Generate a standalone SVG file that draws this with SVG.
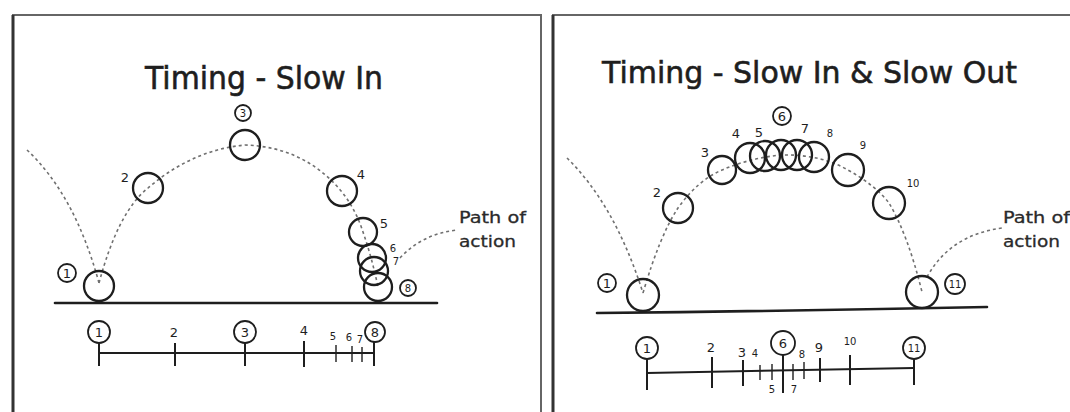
<svg xmlns="http://www.w3.org/2000/svg" width="1070" height="412" viewBox="0 0 1070 412">
<style>
.frame{fill:none;stroke:#666;stroke-width:2}
.frameL{fill:none;stroke:#333;stroke-width:3}
.ball{fill:none;stroke:#1e1e1e;stroke-width:2.3}
.ground{fill:none;stroke:#1e1e1e;stroke-width:2.6;stroke-linecap:round}
.path{fill:none;stroke:#707070;stroke-width:1.6;stroke-dasharray:3 3}
.tl{fill:none;stroke:#1e1e1e;stroke-width:2}
.tick{fill:none;stroke:#1e1e1e;stroke-width:2}
.tickS{fill:none;stroke:#1e1e1e;stroke-width:1.4}
.lc{fill:none;stroke:#1e1e1e;stroke-width:1.8}
.title{font-family:"DejaVu Sans",sans-serif;fill:#1e1e1e;stroke:#1e1e1e;stroke-width:0.6}
.lab{font-family:"DejaVu Sans",sans-serif;fill:#1e1e1e;font-size:13px;text-anchor:middle}
.labS{font-family:"DejaVu Sans",sans-serif;fill:#1e1e1e;font-size:10px;text-anchor:middle}
.note{font-family:"DejaVu Sans",sans-serif;fill:#2a2a2a;font-size:16px;stroke:#2a2a2a;stroke-width:0.3}
</style>
<rect width="1070" height="412" fill="#fff"/>

<!-- frames -->
<g id="frames">
<path class="frame" d="M13,430 V15 H541 V430"/>
<path class="frameL" d="M13,430 V15"/>
<path class="frame" d="M553,430 V15 H1075"/>
<path class="frameL" d="M553,430 V15"/>
</g>

<!-- titles -->
<text class="title" x="145" y="89" font-size="32" textLength="238" lengthAdjust="spacingAndGlyphs">Timing - Slow In</text>
<text class="title" x="602" y="83" font-size="31" textLength="415" lengthAdjust="spacingAndGlyphs">Timing - Slow In &amp; Slow Out</text>

<!-- connectors: dashed paths of action -->
<g id="connectors">
<path class="path" d="M27,150 Q75,195 99,283"/>
<path class="path" d="M99,283 Q118,212 148,188 Q192,150 245,145 Q305,147 342,192 Q356,210 363,232 Q372,258 378,287"/>
<path class="path" d="M400,258 Q422,234 457,230"/>
<path class="path" d="M567,158 Q615,205 643,293"/>
<path class="path" d="M643,293 Q660,235 678,208 Q698,180 722,170 Q750,158 781,155 Q820,154 848,170 Q875,185 889,203 Q908,235 922,292"/>
<path class="path" d="M927,277 Q950,235 1002,228"/>
</g>

<!-- left panel -->
<g id="left-ground"><path class="ground" d="M55,303 H437"/></g>
<g id="L-ball1"><circle class="ball" cx="99" cy="286" r="15"/><circle class="lc" cx="67" cy="273" r="9"/><text class="lab" x="67" y="277.5">1</text></g>
<g id="L-ball2"><circle class="ball" cx="148" cy="188" r="15"/><text class="lab" x="125" y="182">2</text></g>
<g id="L-ball3"><circle class="ball" cx="245" cy="145" r="15"/><circle class="lc" cx="243" cy="113" r="8"/><text class="labS" x="243" y="117">3</text></g>
<g id="L-ball4"><circle class="ball" cx="342" cy="191" r="15"/><text class="lab" x="361" y="179">4</text></g>
<g id="L-ball5"><circle class="ball" cx="363" cy="232" r="14"/><text class="lab" x="384" y="228">5</text></g>
<g id="L-ball6"><circle class="ball" cx="372" cy="258" r="14"/><text class="labS" x="393" y="252">6</text></g>
<g id="L-ball7"><circle class="ball" cx="374" cy="271" r="14"/><text class="labS" x="396" y="265">7</text></g>
<g id="L-ball8"><circle class="ball" cx="378" cy="287" r="14"/><circle class="lc" cx="408" cy="288" r="8"/><text class="labS" x="408" y="292">8</text></g>
<text class="note" x="459" y="223" textLength="67" lengthAdjust="spacingAndGlyphs">Path of</text>
<text class="note" x="459" y="247" textLength="57" lengthAdjust="spacingAndGlyphs">action</text>

<!-- left timeline -->
<g id="L-timeline">
<path class="tl" d="M99,353 H374"/>
<circle class="lc" cx="99" cy="332" r="11"/><text class="lab" x="99" y="337">1</text><path class="tick" d="M99,343 V366"/>
<text class="lab" x="174" y="337">2</text><path class="tick" d="M175,343 V366"/>
<circle class="lc" cx="245" cy="332" r="11"/><text class="lab" x="245" y="337">3</text><path class="tick" d="M245,343 V366"/>
<text class="lab" x="304" y="335">4</text><path class="tick" d="M304,341 V367"/>
<text class="labS" x="333" y="340">5</text><path class="tickS" d="M336,345 V362"/>
<text class="labS" x="349" y="341">6</text><path class="tickS" d="M352,346 V362"/>
<text class="labS" x="360" y="343">7</text><path class="tickS" d="M362,347 V362"/>
<circle class="lc" cx="375" cy="332" r="10"/><text class="lab" x="375" y="337">8</text><path class="tick" d="M374,342 V366"/>
</g>

<!-- right panel -->
<g id="right-ground"><path class="ground" d="M597,313 Q790,311 987,307"/></g>
<g id="R-ball1"><circle class="ball" cx="643" cy="295" r="16"/><circle class="lc" cx="607" cy="283" r="9"/><text class="lab" x="607" y="287.5">1</text></g>
<g id="R-ball2"><circle class="ball" cx="678" cy="208" r="15"/><text class="lab" x="657" y="197">2</text></g>
<g id="R-ball3"><circle class="ball" cx="722" cy="170" r="14"/><text class="lab" x="705" y="157">3</text></g>
<g id="R-ball4"><circle class="ball" cx="750" cy="158" r="15"/><text class="lab" x="736" y="138">4</text></g>
<g id="R-ball5"><circle class="ball" cx="765" cy="156" r="15"/><text class="lab" x="759" y="137">5</text></g>
<g id="R-ball6"><circle class="ball" cx="781" cy="155" r="15"/><circle class="lc" cx="782" cy="116" r="9"/><text class="lab" x="782" y="120.5">6</text></g>
<g id="R-ball7"><circle class="ball" cx="797" cy="155" r="15"/><text class="lab" x="805" y="133">7</text></g>
<g id="R-ball8"><circle class="ball" cx="814" cy="157" r="15"/><text class="labS" x="830" y="137">8</text></g>
<g id="R-ball9"><circle class="ball" cx="848" cy="170" r="16"/><text class="labS" x="863" y="149">9</text></g>
<g id="R-ball10"><circle class="ball" cx="889" cy="203" r="16"/><text class="labS" x="913" y="187">10</text></g>
<g id="R-ball11"><circle class="ball" cx="922" cy="292" r="16"/><circle class="lc" cx="955" cy="284" r="10"/><text class="labS" x="955" y="288">11</text></g>
<text class="note" x="1003" y="223" textLength="67" lengthAdjust="spacingAndGlyphs">Path of</text>
<text class="note" x="1003" y="247" textLength="57" lengthAdjust="spacingAndGlyphs">action</text>

<!-- right timeline -->
<g id="R-timeline">
<path class="tl" d="M647,373 L914,368"/>
<circle class="lc" cx="647" cy="348" r="11"/><text class="lab" x="647" y="353">1</text><path class="tick" d="M647,359 V390"/>
<text class="lab" x="711" y="352">2</text><path class="tick" d="M712,357 V388"/>
<text class="lab" x="742" y="357">3</text><path class="tick" d="M743,360 V386"/>
<text class="labS" x="755" y="357">4</text><path class="tickS" d="M760,365 V380"/>
<path class="tickS" d="M772,364 V380"/><text class="labS" x="772" y="393">5</text>
<circle class="lc" cx="783" cy="343" r="12"/><text class="lab" x="783" y="348">6</text><path class="tick" d="M783,355 V393"/>
<path class="tickS" d="M793,364 V380"/><text class="labS" x="794" y="393">7</text>
<text class="labS" x="802" y="358">8</text><path class="tickS" d="M804,362 V379"/>
<text class="lab" x="819" y="352">9</text><path class="tick" d="M820,358 V382"/>
<text class="labS" x="850" y="345">10</text><path class="tick" d="M850,355 V385"/>
<circle class="lc" cx="914" cy="348" r="11"/><text class="labS" x="914" y="352">11</text><path class="tick" d="M914,359 V385"/>
</g>
</svg>
